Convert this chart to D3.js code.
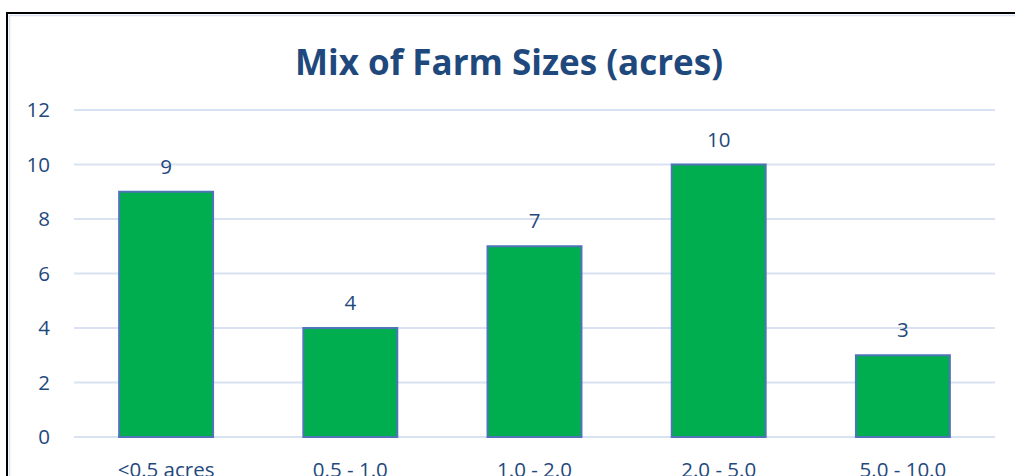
<!DOCTYPE html>
<html>
<head>
<meta charset="utf-8">
<script src="https://cdn.jsdelivr.net/npm/d3@7"></script>
<style>
  html, body { margin: 0; padding: 0; background: #fff; overflow: hidden; }
  svg { display: block; font-family: "Open Sans", sans-serif; }
</style>
</head>
<body>
<svg id="chart" width="1015" height="476"></svg>
<script>
// chart data
const categories = ["<0.5 acres", "0.5 - 1.0", "1.0 - 2.0", "2.0 - 5.0", "5.0 - 10.0"];
const farmCounts = [9, 4, 7, 10, 3];
const yTicks = [0, 2, 4, 6, 8, 10, 12];
const chartTitle = "Mix of Farm Sizes (acres)";

const textColor = "#1f497d";
const gridColor = "#d9e2f3";
const labelSize = 20.5;

let svg = d3.select("#chart");

// outer frame: black line with light blue inside
svg.append("rect")
  .attr("x", 7).attr("y", 13)
  .attr("width", 1100).attr("height", 600)
  .attr("fill", "none")
  .attr("stroke", "#000")
  .attr("stroke-width", 2);
svg.append("rect")
  .attr("x", 9.5).attr("y", 15.5)
  .attr("width", 1100).attr("height", 600)
  .attr("fill", "none")
  .attr("stroke", gridColor)
  .attr("stroke-width", 1.5);

// scales
let xScale = d3.scaleBand()
  .domain(categories)
  .range([74, 995])
  .paddingInner(0.49)
  .paddingOuter(0.245);

let yScale = d3.scaleLinear()
  .domain([0, 12])
  .range([437, 110]);

// gridlines
svg.append("g")
  .selectAll("line")
  .data(yTicks)
  .join("line")
  .attr("x1", 74)
  .attr("x2", 995)
  .attr("y1", d => yScale(d))
  .attr("y2", d => yScale(d))
  .attr("stroke", gridColor)
  .attr("stroke-width", 2);

// y axis labels
let yAxis = d3.axisLeft(yScale).tickValues(yTicks).tickSize(0).tickPadding(0);
let yAxisG = svg.append("g")
  .attr("transform", "translate(50,0)")
  .call(yAxis);
yAxisG.select(".domain").remove();
yAxisG.selectAll("text")
  .attr("fill", textColor)
  .attr("font-size", labelSize)
  .attr("font-family", "Open Sans, sans-serif");

// bars
svg.append("g")
  .selectAll("rect")
  .data(farmCounts)
  .join("rect")
  .attr("x", (d, i) => xScale(categories[i]))
  .attr("y", d => yScale(d))
  .attr("width", xScale.bandwidth())
  .attr("height", d => yScale(0) - yScale(d))
  .attr("fill", "#00ad4f")
  .attr("stroke", "#4f75b8")
  .attr("stroke-width", 2);

// value labels
svg.append("g")
  .selectAll("text")
  .data(farmCounts)
  .join("text")
  .attr("x", (d, i) => xScale(categories[i]) + xScale.bandwidth() / 2)
  .attr("y", d => yScale(d) - 18)
  .attr("text-anchor", "middle")
  .attr("fill", textColor)
  .attr("font-size", labelSize)
  .text(d => d);

// category labels (cut off by the bottom edge, as in the source)
let xAxis = d3.axisBottom(xScale).tickSize(0).tickPadding(0);
let xAxisG = svg.append("g")
  .attr("transform", "translate(0,477)")
  .call(xAxis);
xAxisG.select(".domain").remove();
xAxisG.selectAll("text")
  .attr("dy", 0)
  .attr("fill", textColor)
  .attr("font-size", labelSize)
  .attr("font-family", "Open Sans, sans-serif");

// title
svg.append("text")
  .attr("x", 509)
  .attr("y", 75)
  .attr("text-anchor", "middle")
  .attr("fill", textColor)
  .attr("font-size", 35)
  .attr("font-weight", "bold")
  .text(chartTitle);
</script>
</body>
</html>
